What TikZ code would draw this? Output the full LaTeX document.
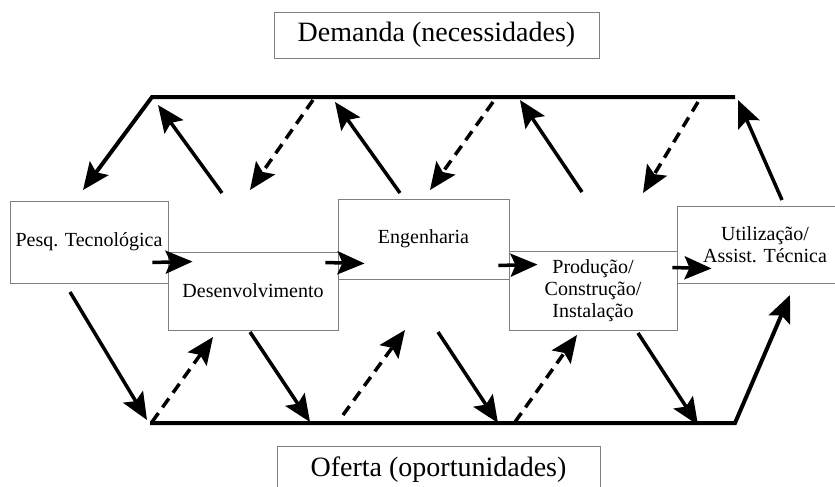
\documentclass[tikz,border=0pt]{standalone}
\usepackage{fontspec}
\setmainfont{Liberation Serif}
\usetikzlibrary{arrows.meta,positioning,calc}

\begin{document}
\begin{tikzpicture}[x=1pt,y=-1pt,
  box/.style={draw=gray,line width=0.9pt,inner sep=0pt,align=center,font=\fontsize{20}{22}\selectfont},
  title/.style={draw=gray,line width=0.9pt,inner sep=0pt,font=\fontsize{28}{30}\selectfont},
  flow/.style={line width=3.5pt,-{Stealth[length=27pt,width=23pt,inset=5pt]}},
  back/.style={flow,dash pattern=on 11pt off 7pt},
  rail/.style={line width=4pt}]
 \useasboundingbox (0,0) rectangle (835,487);
 % titles
 \node (dem) at (436.5,35) [title,minimum width=325,minimum height=46] {Demanda (necessidades)};
 \node (ofe) at (438.5,470) [title,minimum width=323,minimum height=48] {Oferta (oportunidades)};

 % stages
 \node (pesq) at (89,242) [box,minimum width=158,minimum height=82] {Pesq. Tecnológica};
 \node (des) at (253,291) [box,minimum width=170,minimum height=78] {Desenvolvimento};
 \node (eng) at (423.5,239) [box,minimum width=171,minimum height=80] {Engenharia};
 \node (prod) at (593,290.5) [box,minimum width=168,minimum height=79] {Produção/\\Construção/\\Instalação};
 \node (util) at (765,244.5) [box,minimum width=176,minimum height=77] {Utilização/\\Assist. Técnica};

 % coordinates
 \coordinate (t0) at (152,97);
 \coordinate (t1) at (735,97);
 \coordinate (b0) at (150,423);
 \coordinate (b1) at (735,423);
 \coordinate (pin) at (83,190);
 \coordinate (uin) at (790,295);
 % demand side
 \coordinate (ds1) at (222,193); \coordinate (de1) at (158,105);
 \coordinate (ds2) at (313,100); \coordinate (de2) at (250,190);
 \coordinate (ds3) at (400,193); \coordinate (de3) at (335,102);
 \coordinate (ds4) at (493,102); \coordinate (de4) at (430,190);
 \coordinate (ds5) at (582,192); \coordinate (de5) at (520,100);
 \coordinate (ds6) at (698,102); \coordinate (de6) at (643,193);
 \coordinate (ds7) at (782,200); \coordinate (de7) at (738,100);
 % offer side
 \coordinate (os1) at (70,292);  \coordinate (oe1) at (147,420);
 \coordinate (os2) at (152,422); \coordinate (oe2) at (213,337);
 \coordinate (os3) at (250,332); \coordinate (oe3) at (310,422);
 \coordinate (os4) at (343,415); \coordinate (oe4) at (405,330);
 \coordinate (os5) at (438,332); \coordinate (oe5) at (498,423);
 \coordinate (os6) at (515,422); \coordinate (oe6) at (577,335);
 \coordinate (os7) at (638,333); \coordinate (oe7) at (698,425);

 % rails
 \draw[flow,rail] (t1) -- (t0) -- (pin);
 \draw[flow,rail] (b0) -- (b1) -- (uin);

 % chain
 \draw[flow] ($(pesq.south east)+(-16,-21)$) -- ($(des.north west)+(25,10)$);
 \draw[flow] ($(des.north east)+(-13,11)$) -- ($(eng.south west)+(27,-16)$);
 \draw[flow] ($(eng.south east)+(-11,-14)$) -- ($(prod.north west)+(29,14)$);
 \draw[flow] ($(prod.north east)+(-5,17)$) -- ($(util.south west)+(35,-15)$);

 % connectors
 \foreach \i in {1,3,5,7} {
  \draw[flow] (ds\i) -- (de\i);
  \draw[flow] (os\i) -- (oe\i);
 }
 \foreach \i in {2,4,6} {
  \draw[back] (ds\i) -- (de\i);
  \draw[back] (os\i) -- (oe\i);
 }
\end{tikzpicture}
\end{document}
